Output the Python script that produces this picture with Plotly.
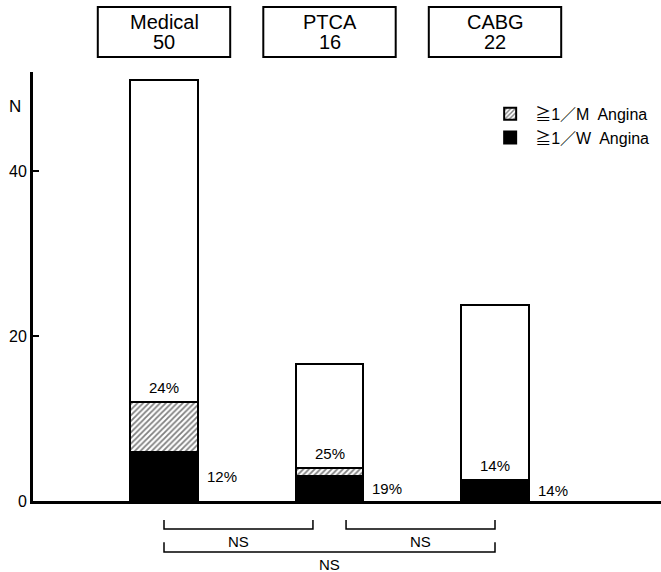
import plotly.graph_objects as go

# ---- data ----
groups = ["Medical", "PTCA", "CABG"]
group_n = [50, 16, 22]
totals = [51, 16.6, 23.8]
monthly_angina = [12, 4, 2.6]   # >=1/M angina (includes weekly)
weekly_angina = [6, 3, 2.6]     # >=1/W angina
pct_monthly = ["24%", "25%", "14%"]
pct_weekly = ["12%", "19%", "14%"]
comparisons = [(0, 1, "NS"), (1, 2, "NS"), (0, 2, "NS")]
y_ticks = [0, 20, 40]

FONT = "Liberation Sans, Arial, Noto Sans CJK JP, sans-serif"
xpos = [1, 2, 3]
bar_w = 0.405
box_half = 0.40

hatched = [m - w for m, w in zip(monthly_angina, weekly_angina)]
rest = [t - m for t, m in zip(totals, monthly_angina)]

fig = go.Figure()
fig.add_trace(go.Bar(
    x=xpos, y=weekly_angina, width=bar_w, name="≧1／W  Angina",
    marker=dict(color="black", line=dict(color="black", width=2)),
    hoverinfo="skip"))
fig.add_trace(go.Bar(
    x=xpos, y=hatched, width=bar_w, name="≧1／M  Angina",
    marker=dict(color="white", line=dict(color="black", width=2),
                pattern=dict(shape="/", fgcolor="black", bgcolor="white",
                             size=4, solidity=0.45)),
    hoverinfo="skip"))
fig.add_trace(go.Bar(
    x=xpos, y=rest, width=bar_w, name="total", showlegend=False,
    marker=dict(color="white", line=dict(color="black", width=2)),
    hoverinfo="skip"))

annotations = []
shapes = []
# group boxes
for x, g, n in zip(xpos, groups, group_n):
    shapes.append(dict(
        type="rect", xref="x", yref="paper",
        x0=x - box_half, x1=x + box_half, y0=1.035, y1=1.1515,
        line=dict(color="black", width=2), fillcolor="white"))
    annotations.append(dict(
        x=x, xref="x", y=1.1166, yref="paper", text=g,
        showarrow=False, font=dict(family=FONT, size=20, color="black"),
        xanchor="center", yanchor="middle"))
    annotations.append(dict(
        x=x, xref="x", y=1.070, yref="paper", text=str(n),
        showarrow=False, font=dict(family=FONT, size=20, color="black"),
        xanchor="center", yanchor="middle"))
# percentage labels
for x, m, p in zip(xpos, monthly_angina, pct_monthly):
    annotations.append(dict(
        x=x, y=m, xref="x", yref="y", text=p, showarrow=False,
        yanchor="bottom", yshift=4,
        font=dict(family=FONT, size=15, color="black")))
for x, w, p in zip(xpos, weekly_angina, pct_weekly):
    annotations.append(dict(
        x=x + bar_w / 2, y=w / 2, xref="x", yref="y", text=p,
        showarrow=False, xanchor="left", yanchor="middle", xshift=7,
        font=dict(family=FONT, size=15, color="black")))
# N label
annotations.append(dict(
    x=0, y=0.946, xref="paper", yref="paper", text="N", xanchor="right",
    xshift=-10, showarrow=False,
    font=dict(family=FONT, size=17, color="black")))

# significance brackets
row_y = {1: (-0.044, -0.065), 2: (-0.096, -0.119)}
for a, b, lab in comparisons:
    adjacent = (b - a) == 1
    row = 1 if adjacent else 2
    x0 = xpos[a] + (0.1 if adjacent and a > 0 else 0)
    x1 = xpos[b] - (0.1 if adjacent and b < len(xpos) - 1 else 0)
    ytop, ybot = row_y[row]
    shapes.append(dict(
        type="path", xref="x", yref="paper",
        path=f"M {x0},{ytop} L {x0},{ybot} L {x1},{ybot} L {x1},{ytop}",
        line=dict(color="black", width=1.5)))
    annotations.append(dict(
        x=(x0 + x1) / 2, y=ybot - 0.004, xref="x", yref="paper", text=lab,
        showarrow=False, yanchor="top",
        font=dict(family=FONT, size=15, color="black")))

fig.update_layout(
    width=661, height=572,
    margin=dict(l=33, r=0, t=72, b=71, autoexpand=False),
    paper_bgcolor="white", plot_bgcolor="white",
    barmode="stack", bargap=0,
    showlegend=True,
    legend=dict(x=0.7200, y=0.942, xanchor="left", yanchor="top",
                traceorder="reversed", bgcolor="rgba(0,0,0,0)",
                font=dict(family=FONT, size=16, color="black"),
                itemwidth=40, tracegroupgap=2),
    xaxis=dict(range=[0.2085, 4.003], showgrid=False, zeroline=False,
               showticklabels=False, ticks="", showline=True,
               linecolor="black", linewidth=3, automargin=False),
    yaxis=dict(range=[0, 52], tickvals=y_ticks, ticks="inside", ticklen=6,
               tickwidth=2, tickcolor="black", showgrid=False, zeroline=False,
               showline=True, linecolor="black", linewidth=3, automargin=False,
               tickfont=dict(family=FONT, size=16, color="black")),
    annotations=annotations, shapes=shapes,
    font=dict(family=FONT, color="black"),
)

fig.write_html("out.html", config={"displayModeBar": False},
               post_script="document.body.style.margin='0px';")
